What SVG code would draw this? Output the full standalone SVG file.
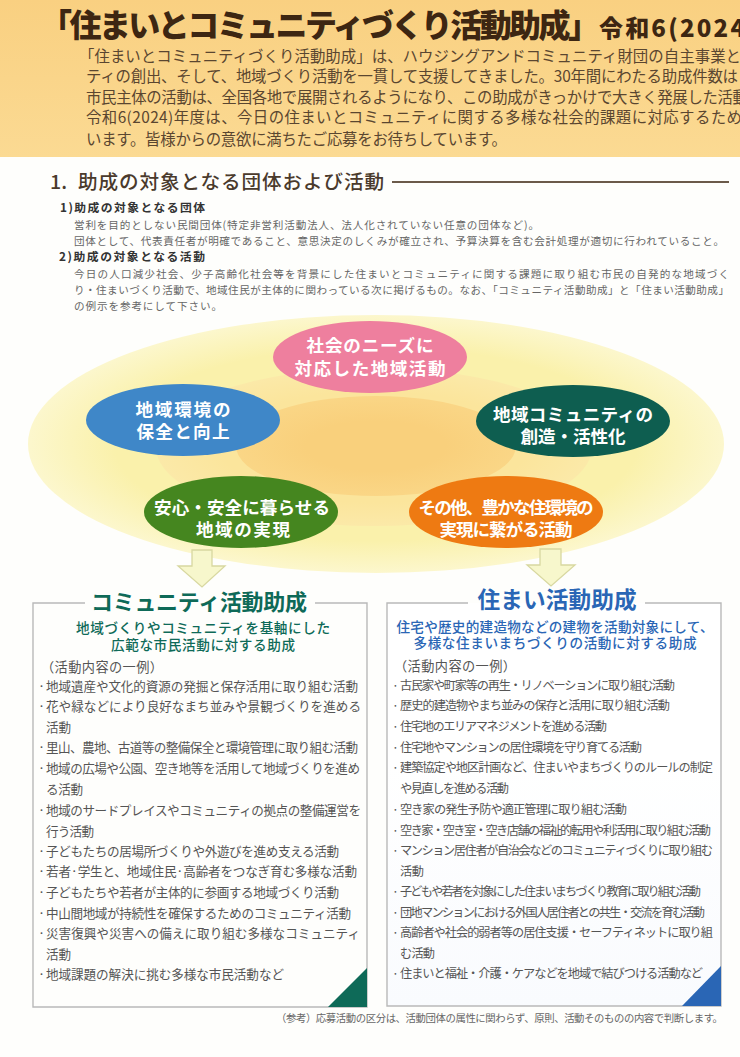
<svg xmlns="http://www.w3.org/2000/svg" width="740" height="1057" viewBox="0 0 740 1057">
<style>
text{font-family:"Noto Sans CJK JP","Noto Sans",sans-serif}
.title{font-weight:900;fill:#3d2612}
.lead{font-size:15.4px;fill:#5a4630}
.h1{font-size:19.6px;font-weight:500;fill:#4a3a2c}
.h2{font-size:11.8px;font-weight:700;fill:#333}
.p{font-size:10.6px;fill:#666}
.node{font-size:17.6px;font-weight:700;fill:#fff;text-anchor:middle}
.arrow{fill:#f7f7cc;stroke:#d8d8a0;stroke-width:1.3}
.box{fill:none;stroke:#b9b9b9;stroke-width:1.4}
.bh{font-size:22px;font-weight:700;text-anchor:middle}
.bs{font-size:13.6px;font-weight:500;text-anchor:middle}
.li{font-size:12.6px;fill:#555}
.lh{font-size:13.2px;fill:#555}
.r{font-size:12.2px}
.g{fill:#0e6a58}
.b{fill:#2a66b5}
</style>
<defs>
<linearGradient id="hdr" x1="0" y1="0" x2="0" y2="1"><stop offset="0" stop-color="#f9d081"/><stop offset="1" stop-color="#fbda93"/></linearGradient>
<radialGradient id="e1"><stop offset="0.75" stop-color="#faf1ab"/><stop offset="1" stop-color="#fcf7cd"/></radialGradient>
<radialGradient id="e2"><stop offset="0.7" stop-color="#fbe59c"/><stop offset="1" stop-color="#fbe9a8"/></radialGradient>
<radialGradient id="e3"><stop offset="0.5" stop-color="#f9d07c"/><stop offset="1" stop-color="#fad686"/></radialGradient>
<linearGradient id="rb" x1="0" y1="0" x2="0" y2="1"><stop offset="0.4" stop-color="#fff"/><stop offset="1" stop-color="#f9fbfe"/></linearGradient>
</defs>
<rect width="740" height="1057" fill="#fefefc"/>
<g id="header">
<rect width="740" height="157" fill="url(#hdr)"/>
<text class="title" x="40" y="37" font-size="32" textLength="560">「住まいとコミュニティづくり活動助成」</text>
<text class="title" x="599" y="37" font-size="24" textLength="146">令和6(2024</text>
<text class="lead" x="79" y="62" textLength="662">「住まいとコミュニティづくり活動助成」は、ハウジングアンドコミュニティ財団の自主事業と</text>
<text class="lead" x="86" y="82" textLength="652">ティの創出、そして、地域づくり活動を一貫して支援してきました。30年間にわたる助成件数は</text>
<text class="lead" x="86" y="103" textLength="662">市民主体の活動は、全国各地で展開されるようになり、この助成がきっかけで大きく発展した活動</text>
<text class="lead" x="86" y="123" textLength="656">令和6(2024)年度は、今日の住まいとコミュニティに関する多様な社会的課題に対応するため</text>
<text class="lead" x="86" y="145" textLength="421">います。皆様からの意欲に満ちたご応募をお待ちしています。</text>
</g>
<g id="section">
<text class="h1" x="50" y="189">1.</text>
<text class="h1" x="78" y="189" textLength="306">助成の対象となる団体および活動</text>
<rect x="392" y="181" width="337" height="2" fill="#6b5a4a"/>
<text class="h2" x="60" y="212" textLength="145">1)助成の対象となる団体</text>
<text class="p" x="74" y="229" textLength="465">営利を目的としない民間団体(特定非営利活動法人、法人化されていない任意の団体など)。</text>
<text class="p" x="74" y="245" textLength="650">団体として、代表責任者が明確であること、意思決定のしくみが確立され、予算決算を含む会計処理が適切に行われていること。</text>
<text class="h2" x="59" y="261" textLength="146">2)助成の対象となる活動</text>
<text class="p" x="74" y="278" textLength="655">今日の人口減少社会、少子高齢化社会等を背景にした住まいとコミュニティに関する課題に取り組む市民の自発的な地域づく</text>
<text class="p" x="74" y="294" textLength="655">り・住まいづくり活動で、地域住民が主体的に関わっている次に掲げるもの。なお、「コミュニティ活動助成」と「住まい活動助成」</text>
<text class="p" x="74" y="310" textLength="148">の例示を参考にして下さい。</text>
</g>
<g id="backdrop">
<ellipse cx="376" cy="444" rx="348" ry="129" fill="url(#e1)"/>
<ellipse cx="374" cy="447" rx="218" ry="79" fill="url(#e2)"/>
<ellipse cx="376" cy="446" rx="140" ry="50" fill="url(#e3)"/>
</g>
<g id="connectors">
<path class="arrow" d="M192 550H212V566H225L202 587L178 566H192Z"/>
<path class="arrow" d="M540 549H561V565H575L551 586L527 565H540Z"/>
</g>
<g id="node-needs"><ellipse cx="370" cy="357" rx="97" ry="36" fill="#ee7f9e"/><text class="node" x="370" y="352" textLength="127">社会のニーズに</text><text class="node" x="370" y="375" textLength="151">対応した地域活動</text></g>
<g id="node-env"><ellipse cx="183" cy="420" rx="97" ry="36" fill="#3f87c8"/><text class="node" x="183" y="416" textLength="95">地域環境の</text><text class="node" x="183" y="438" textLength="93">保全と向上</text></g>
<g id="node-community"><ellipse cx="573" cy="421" rx="97" ry="36" fill="#0e5e50"/><text class="node" x="573" y="421" textLength="160">地域コミュニティの</text><text class="node" x="573" y="443" textLength="105">創造・活性化</text></g>
<g id="node-safe"><ellipse cx="241" cy="512" rx="97" ry="36" fill="#45861f"/><text class="node" x="242" y="514" textLength="176">安心・安全に暮らせる</text><text class="node" x="243" y="536" textLength="94">地域の実現</text></g>
<g id="node-other"><ellipse cx="506" cy="512" rx="97" ry="36" fill="#ee7a12"/><text class="node" x="506" y="514" textLength="175">その他、豊かな住環境の</text><text class="node" x="506" y="536" textLength="133">実現に繋がる活動</text></g>
<g id="box-community">
<path class="box" d="M85 603H33V1007H367V603H315"/>
<path class="g" d="M328 1007L367 968V1007Z"/>
<text class="bh g" x="199" y="610" textLength="216">コミュニティ活動助成</text>
<text class="bs g" x="203" y="633" textLength="254">地域づくりやコミュニティを基軸にした</text>
<text class="bs g" x="203" y="650" textLength="184">広範な市民活動に対する助成</text>
<text class="lh" x="41" y="672" textLength="122">（活動内容の一例）</text>
<text class="li" x="38" y="691">·</text><text class="li" x="46" y="691" textLength="312">地域遺産や文化的資源の発掘と保存活用に取り組む活動</text>
<text class="li" x="38" y="711">·</text><text class="li" x="46" y="711" textLength="315">花や緑などにより良好なまち並みや景観づくりを進める</text>
<text class="li" x="46" y="732" textLength="25">活動</text>
<text class="li" x="38" y="752">·</text><text class="li" x="46" y="752" textLength="312">里山、農地、古道等の整備保全と環境管理に取り組む活動</text>
<text class="li" x="38" y="773">·</text><text class="li" x="46" y="773" textLength="314">地域の広場や公園、空き地等を活用して地域づくりを進め</text>
<text class="li" x="46" y="794" textLength="37">る活動</text>
<text class="li" x="38" y="815">·</text><text class="li" x="46" y="815" textLength="315">地域のサードプレイスやコミュニティの拠点の整備運営を</text>
<text class="li" x="46" y="836" textLength="48">行う活動</text>
<text class="li" x="38" y="856">·</text><text class="li" x="46" y="856" textLength="293">子どもたちの居場所づくりや外遊びを進め支える活動</text>
<text class="li" x="38" y="876">·</text><text class="li" x="46" y="876" textLength="311">若者·学生と、地域住民·高齢者をつなぎ育む多様な活動</text>
<text class="li" x="38" y="897">·</text><text class="li" x="46" y="897" textLength="293">子どもたちや若者が主体的に参画する地域づくり活動</text>
<text class="li" x="38" y="918">·</text><text class="li" x="46" y="918" textLength="305">中山間地域が持続性を確保するためのコミュニティ活動</text>
<text class="li" x="38" y="938">·</text><text class="li" x="46" y="938" textLength="314">災害復興や災害への備えに取り組む多様なコミュニティ</text>
<text class="li" x="46" y="959" textLength="25">活動</text>
<text class="li" x="38" y="979">·</text><text class="li" x="46" y="979" textLength="238">地域課題の解決に挑む多様な市民活動など</text>
</g>
<g id="box-housing">
<rect x="387" y="603" width="334" height="403" fill="url(#rb)"/>
<path class="box" d="M468 603H387V1006H721V603H645"/>
<path class="b" d="M682 1006L721 966V1006Z"/>
<text class="bh b" x="557" y="608" style="font-size:22.6px" textLength="159">住まい活動助成</text>
<text class="bs b" x="555" y="632" textLength="317">住宅や歴史的建造物などの建物を活動対象にして、</text>
<text class="bs b" x="555" y="648" textLength="283">多様な住まいまちづくりの活動に対する助成</text>
<text class="lh" x="394" y="671" textLength="122">（活動内容の一例）</text>
<text class="li r" x="392" y="690">·</text><text class="li r" x="400" y="690" textLength="275">古民家や町家等の再生・リノベーションに取り組む活動</text>
<text class="li r" x="392" y="710">·</text><text class="li r" x="400" y="710" textLength="270">歴史的建造物やまち並みの保存と活用に取り組む活動</text>
<text class="li r" x="392" y="731">·</text><text class="li r" x="400" y="731" textLength="207">住宅地のエリアマネジメントを進める活動</text>
<text class="li r" x="392" y="752">·</text><text class="li r" x="400" y="752" textLength="242">住宅地やマンションの居住環境を守り育てる活動</text>
<text class="li r" x="392" y="772">·</text><text class="li r" x="400" y="772" textLength="313">建築協定や地区計画など、住まいやまちづくりのルールの制定</text>
<text class="li r" x="400" y="793" textLength="109">や見直しを進める活動</text>
<text class="li r" x="392" y="814">·</text><text class="li r" x="400" y="814" textLength="227">空き家の発生予防や適正管理に取り組む活動</text>
<text class="li r" x="392" y="835">·</text><text class="li r" x="400" y="835" textLength="311">空き家・空き室・空き店舗の福祉的転用や利活用に取り組む活動</text>
<text class="li r" x="392" y="855">·</text><text class="li r" x="400" y="855" textLength="313">マンション居住者が自治会などのコミュニティづくりに取り組む</text>
<text class="li r" x="400" y="876" textLength="24">活動</text>
<text class="li r" x="392" y="896">·</text><text class="li r" x="400" y="896" textLength="301">子どもや若者を対象にした住まいまちづくり教育に取り組む活動</text>
<text class="li r" x="392" y="917">·</text><text class="li r" x="400" y="917" textLength="305">団地マンションにおける外国人居住者との共生・交流を育む活動</text>
<text class="li r" x="392" y="937">·</text><text class="li r" x="400" y="937" textLength="313">高齢者や社会的弱者等の居住支援・セーフティネットに取り組</text>
<text class="li r" x="400" y="958" textLength="35">む活動</text>
<text class="li r" x="392" y="978">·</text><text class="li r" x="400" y="978" textLength="303">住まいと福祉・介護・ケアなどを地域で結びつける活動など</text>
</g>
<text id="footnote" x="276" y="1022" font-size="10.4" fill="#666" textLength="447">（参考）応募活動の区分は、活動団体の属性に関わらず、原則、活動そのものの内容で判断します。</text>
</svg>
